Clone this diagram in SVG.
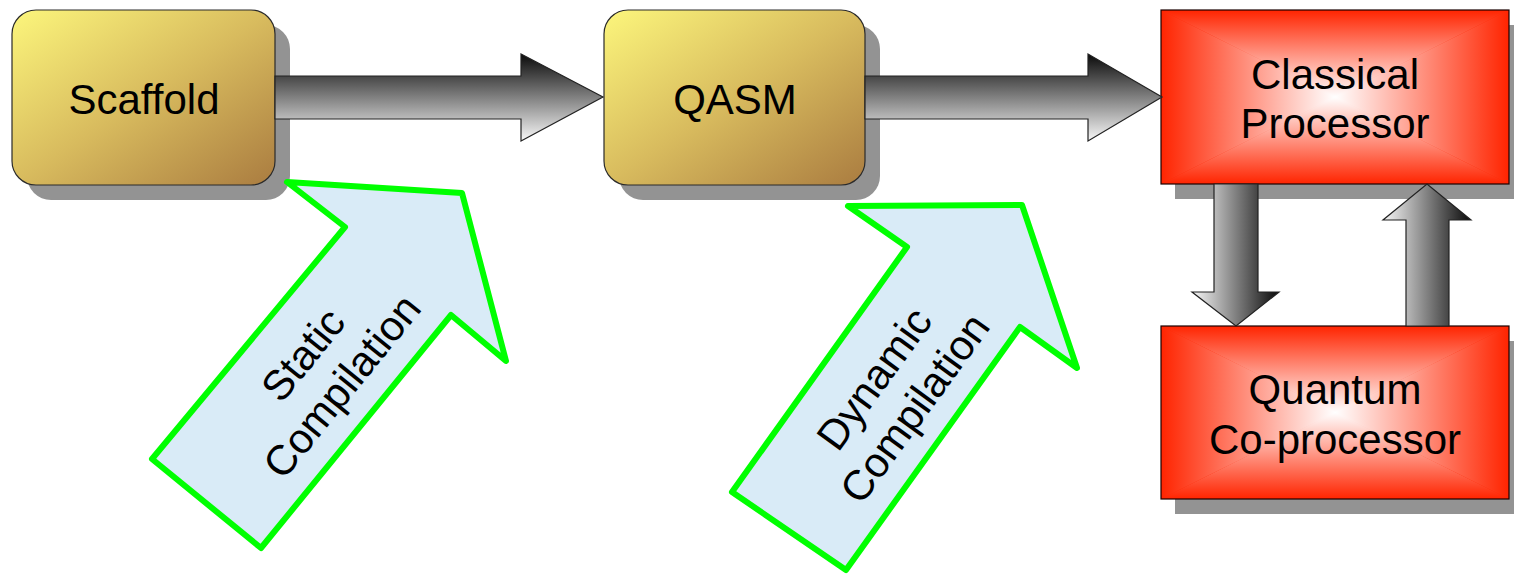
<svg xmlns="http://www.w3.org/2000/svg" width="1514" height="574" viewBox="0 0 1514 574">
<defs>
<linearGradient id="gold" x1="0" y1="0" x2="1" y2="1">
<stop offset="0" stop-color="#fcf67c"/>
<stop offset="0.5" stop-color="#d8bb5e"/>
<stop offset="1" stop-color="#aa7c40"/>
</linearGradient>
<linearGradient id="hgrad" x1="0" y1="0" x2="0" y2="1">
<stop offset="0" stop-color="#0a0a0a"/>
<stop offset="1" stop-color="#f8f8f8"/>
</linearGradient>
<linearGradient id="vgrad" x1="0" y1="0" x2="1" y2="0">
<stop offset="0" stop-color="#f8f8f8"/>
<stop offset="1" stop-color="#0a0a0a"/>
</linearGradient>
<linearGradient id="rT" x1="0" y1="0" x2="0" y2="1"><stop offset="0" stop-color="#ff2400"/><stop offset="1" stop-color="#ffffff"/></linearGradient>
<linearGradient id="rB" x1="0" y1="1" x2="0" y2="0"><stop offset="0" stop-color="#ff2400"/><stop offset="1" stop-color="#ffffff"/></linearGradient>
<linearGradient id="rL" x1="0" y1="0" x2="1" y2="0"><stop offset="0" stop-color="#ff2400"/><stop offset="1" stop-color="#ffffff"/></linearGradient>
<linearGradient id="rR" x1="1" y1="0" x2="0" y2="0"><stop offset="0" stop-color="#ff2400"/><stop offset="1" stop-color="#ffffff"/></linearGradient>
<radialGradient id="rbase" cx="0.5" cy="0.5" r="0.5">
<stop offset="0" stop-color="#ffffff"/>
<stop offset="1" stop-color="#ff2400"/>
</radialGradient>
</defs>
<style>
.shadow{fill:#939393}
.goldbox{fill:url(#gold);stroke:#2a2a2a;stroke-width:1.2}
.redframe{fill:none;stroke:#1a0000;stroke-width:1.2}
.label{font-family:"Liberation Sans",Arial,sans-serif;font-size:42px;fill:#000;text-anchor:middle}
.harrow{fill:url(#hgrad);stroke:#222;stroke-width:1.2}
.varrow{fill:url(#vgrad);stroke:#222;stroke-width:1.2}
.green{fill:#d9ebf7;stroke:#00ff00;stroke-width:6;stroke-linejoin:round}
</style>

<g id="scaffold">
<rect class="shadow" x="27" y="25" width="263" height="175" rx="24"/>
<rect class="goldbox" x="12" y="10" width="263" height="175" rx="24"/>
<text class="label" x="144" y="114">Scaffold</text>
</g>

<g id="qasm">
<rect class="shadow" x="619" y="25" width="261" height="175" rx="24"/>
<rect class="goldbox" x="604" y="10" width="261" height="175" rx="24"/>
<text class="label" x="735" y="114">QASM</text>
</g>

<g id="classical">
<rect class="shadow" x="1175" y="25" width="348" height="174"/>
<rect x="1161" y="10" width="348" height="174" fill="url(#rbase)"/>
<polygon points="1161,10 1509,10 1335,97" fill="url(#rT)"/>
<polygon points="1161,184 1509,184 1335,97" fill="url(#rB)"/>
<polygon points="1161,10 1161,184 1335,97" fill="url(#rL)"/>
<polygon points="1509,10 1509,184 1335,97" fill="url(#rR)"/>
<rect class="redframe" x="1161" y="10" width="348" height="174"/>
<text class="label" x="1335" y="89">Classical</text>
<text class="label" x="1335" y="138">Processor</text>
</g>

<g id="quantum">
<rect class="shadow" x="1175" y="341" width="348" height="173"/>
<rect x="1161" y="326" width="348" height="173" fill="url(#rbase)"/>
<polygon points="1161,326 1509,326 1335,412.5" fill="url(#rT)"/>
<polygon points="1161,499 1509,499 1335,412.5" fill="url(#rB)"/>
<polygon points="1161,326 1161,499 1335,412.5" fill="url(#rL)"/>
<polygon points="1509,326 1509,499 1335,412.5" fill="url(#rR)"/>
<rect class="redframe" x="1161" y="326" width="348" height="173"/>
<text class="label" x="1335" y="404">Quantum</text>
<text class="label" x="1335" y="454">Co-processor</text>
</g>

<g id="connectors">
<path class="harrow" d="M275,76 H521 V54 L603,97 L521,141 V119 H275 Z"/>
<path class="harrow" d="M865,76 H1088 V54 L1162,97 L1088,141 V119 H865 Z"/>
<path class="varrow" d="M1214,184 V292 H1192 L1236,326 L1279,292 H1258 V184 Z"/>
<path class="varrow" d="M1406,326 V220 H1383 L1427,184 L1471,220 H1449 V326 Z"/>
</g>

<g id="static-compilation">
<polygon class="green" points="287,182 462,193 506,361 451,315 261,548 152,459 345,227"/>
<g transform="translate(322,370) rotate(-51)">
<text class="label" x="0" y="-10">Static</text>
<text class="label" x="0" y="40">Compilation</text>
</g>
</g>

<g id="dynamic-compilation">
<polygon class="green" points="848,206 1022,205 1077,368 1020,327 846,570 732,492 907,247"/>
<g transform="translate(894,393) rotate(-54)">
<text class="label" x="0" y="-10">Dynamic</text>
<text class="label" x="0" y="40">Compilation</text>
</g>
</g>
</svg>
